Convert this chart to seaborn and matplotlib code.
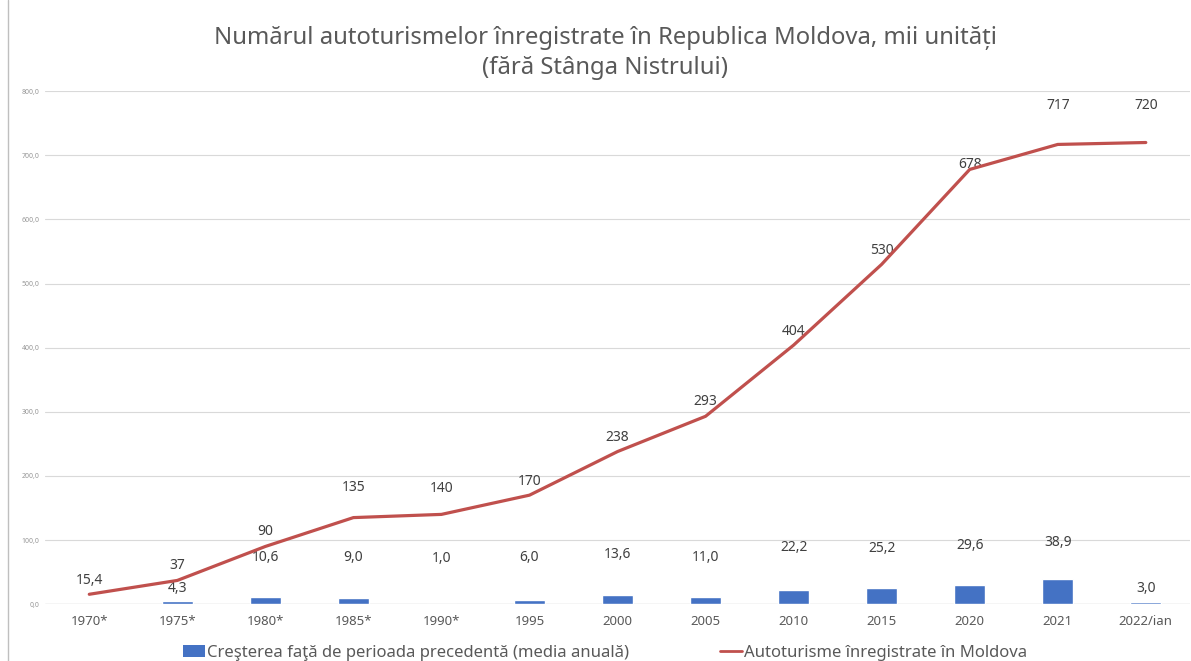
import pandas as pd
import matplotlib.pyplot as plt
import seaborn as sns
import numpy as np
from matplotlib.lines import Line2D
from matplotlib.patches import Patch

# ---- data ----
years = ['1970*', '1975*', '1980*', '1985*', '1990*', '1995', '2000',
         '2005', '2010', '2015', '2020', '2021', '2022/ian']
cars = [15.4, 37, 90, 135, 140, 170, 238, 293, 404, 530, 678, 717, 720]
growth = [np.nan, 4.3, 10.6, 9.0, 1.0, 6.0, 13.6, 11.0, 22.2, 25.2, 29.6, 38.9, 3.0]

car_labels = ['15,4'] + [str(v) for v in cars[1:]]
# label offsets above the point (pixels)
car_off = [14, 15, 15, 30, 26, 14, 14, 15, 14, 14, 5, 39, 37]
bar_off = [0, 13, 40, 41, 45, 43, 41, 40, 42, 39, 40, 37, 14]

df = pd.DataFrame({'an': years, 'auto': cars, 'crestere': growth})

sns.set_theme(style="white")
plt.rcParams['font.family'] = ['Noto Sans', 'DejaVu Sans']

BLUE = '#4472C4'
RED = '#C0504D'
GREY = '#595959'

fig = plt.figure(figsize=(11.91, 6.61), dpi=100)
ax = fig.add_axes([0.038, 0.086, 0.961, 0.776])

sns.barplot(data=df, x='an', y='crestere', color=BLUE, width=0.35,
            saturation=1, ax=ax, zorder=3)
sns.lineplot(data=df, x='an', y='auto', color=RED, linewidth=2.3,
             ax=ax, zorder=4, sort=False)

ax.set_ylim(0, 800)
ax.set_xlim(-0.5, len(years) - 0.5)
ax.set_yticks(range(0, 801, 100))
ax.set_yticklabels([f'{v},0' for v in range(0, 801, 100)], fontsize=5, color='#999999')
ax.yaxis.grid(True, color='#d9d9d9', linewidth=0.8)
ax.set_axisbelow(True)
ax.tick_params(axis='x', labelsize=9.5, labelcolor=GREY, length=0, pad=8)
ax.tick_params(axis='y', length=0, pad=4)
ax.set_xlabel('')
ax.set_ylabel('')
for s in ax.spines.values():
    s.set_visible(False)
ax.axhline(0, color='#d9d9d9', linewidth=1, zorder=2)

for i, (v, lab, off) in enumerate(zip(cars, car_labels, car_off)):
    ax.annotate(lab, (i, v), xytext=(0, off * 0.72), textcoords='offset points',
                ha='center', va='center', fontsize=10, color='#404040')

for i, (v, off) in enumerate(zip(growth, bar_off)):
    if np.isnan(v):
        continue
    ax.annotate(f'{v:.1f}'.replace('.', ','), (i, v), xytext=(0, off * 0.72),
                textcoords='offset points', ha='center', va='center',
                fontsize=10, color='#404040')

fig.suptitle('Numărul autoturismelor înregistrate în Republica Moldova, mii unități\n'
             '(fără Stânga Nistrului)', x=0.508, y=0.96, fontsize=17.2, color=GREY,
             linespacing=1.33)

handles = [Patch(facecolor=BLUE, edgecolor='none'),
           Line2D([0], [0], color=RED, linewidth=2)]
fig.legend(handles, ['Creşterea faţă de perioada precedentă (media anuală)',
                     'Autoturisme înregistrate în Moldova'],
           loc='lower center', bbox_to_anchor=(0.508, -0.022), ncol=2, frameon=False,
           fontsize=12, handlelength=1.3, handletextpad=0.1, columnspacing=5.5,
           labelcolor=GREY)

fig.add_artist(Line2D([8 / 1191, 8 / 1191], [0, 1], color='#bfbfbf', linewidth=1,
                      transform=fig.transFigure))

fig.savefig('out.png', dpi=100)
